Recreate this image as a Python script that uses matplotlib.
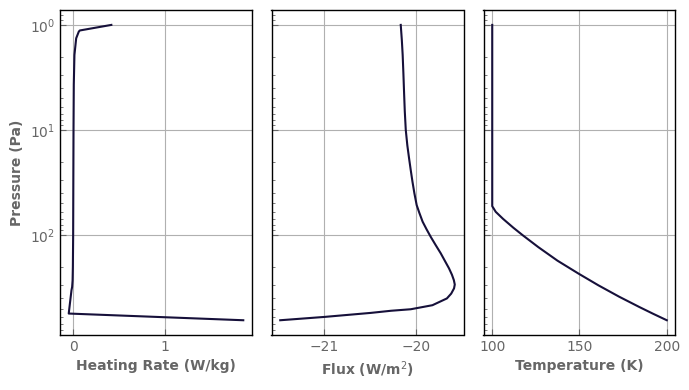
import matplotlib
matplotlib.use("Agg")
import matplotlib.pyplot as plt

# Heating rate profile (W/kg) vs pressure (Pa)
heat_p = [1.0, 1.13, 1.16, 1.34, 1.93, 3.7, 10, 30, 100, 200, 270, 311, 334, 557, 645]
heat_q = [0.415, 0.072, 0.061, 0.033, 0.014, 0.007, 0.004, 0.002, 0.0, -0.003, -0.006, -0.011, -0.018, -0.048, 1.848]

# Net flux profile (W/m^2)
flux_p = [1.0, 1.4, 1.93, 2.9, 4.32, 6.6, 10, 14, 18.6, 24, 31.0, 40, 51.8, 61, 74.5, 88, 104, 125,
          149, 177, 207, 238, 268, 295, 321, 360, 400, 464, 507, 524, 549, 600, 645]
flux_f = [-20.164, -20.152, -20.143, -20.135, -20.128, -20.12, -20.109, -20.092, -20.073, -20.055,
          -20.036, -20.015, -19.990, -19.962, -19.925, -19.882, -19.836, -19.781,
          -19.727, -19.680, -19.637, -19.605, -19.584, -19.574, -19.582, -19.613, -19.660,
          -19.818, -20.055, -20.27, -20.49, -21.0, -21.48]

# Temperature profile (K)
temp_p = [1.0, 10, 30, 53, 60, 70, 85, 100, 130, 175, 232, 300, 385, 482, 560, 645]
temp_t = [100, 100, 100, 100, 102.0, 106.2, 112.1, 117.4, 126.4, 137.4, 149.4, 160.8,
          172.7, 184.2, 192.2, 200]

line_color = "#16103a"
text_color = "#666666"

fig = plt.figure(figsize=(6.89, 3.90), dpi=100)
bottom, height = 0.141, 0.833
lefts = [60 / 689, 271.5 / 689, 483.5 / 689]
width = 192 / 689
axes = [fig.add_axes([l, bottom, width, height]) for l in lefts]

data = [(heat_q, heat_p, "Heating Rate (W/kg)"),
        (flux_f, flux_p, "Flux (W/m$^2$)"),
        (temp_t, temp_p, "Temperature (K)")]

for i, (ax, (x, p, lab)) in enumerate(zip(axes, data)):
    ax.plot(x, p, color=line_color, lw=1.5)
    ax.set_yscale("log")
    ax.invert_yaxis()
    ax.grid(True, color="#b0b0b0", lw=0.8)
    ax.set_axisbelow(True)
    ax.set_xlabel(lab, color=text_color, fontweight="bold", fontsize=10)
    ax.tick_params(axis="both", which="both", direction="in", colors=text_color,
                   labelsize=10, top=False, right=False)
    ax.tick_params(axis="both", which="major", length=4)
    ax.tick_params(axis="y", which="minor", length=2)
    for s in ax.spines.values():
        s.set_color("black")
        s.set_linewidth(1.0)
    if i > 0:
        ax.tick_params(axis="y", which="both", labelleft=False)

axes[0].set_ylabel("Pressure (Pa)", color=text_color, fontweight="bold", fontsize=10)
axes[0].set_xticks([0, 1])
axes[1].set_xticks([-21, -20])
axes[2].set_xticks([100, 150, 200])

fig.savefig("out.png", dpi=100)
